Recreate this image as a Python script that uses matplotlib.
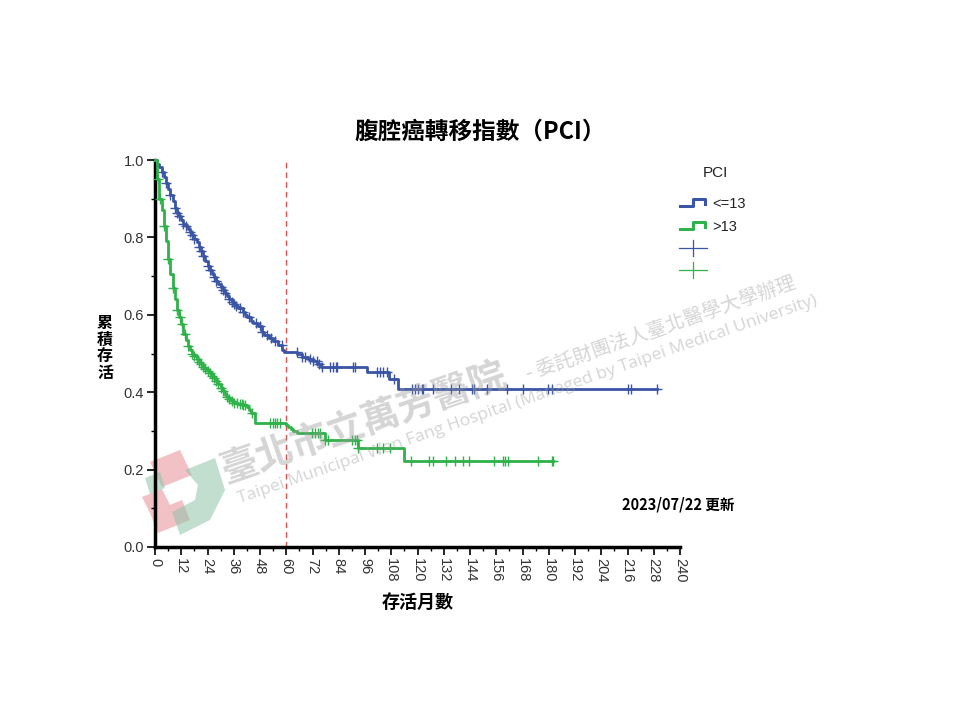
import numpy as np
import matplotlib as mpl

mpl.use("Agg")
import matplotlib.pyplot as plt
from matplotlib.lines import Line2D
from matplotlib.patches import Polygon

plt.rcParams["font.family"] = ["Liberation Sans", "Noto Sans CJK TC", "DejaVu Sans"]

# Kaplan-Meier steps, PCI <= 13
blue_t = [0, 1, 2, 3, 4, 5, 6, 7, 8, 9, 10, 11, 12, 13, 14, 15, 16, 17, 18, 19,
          20, 21, 22, 23, 24, 25, 26, 27, 28, 29, 30, 31, 32, 33, 34, 35, 36, 37,
          38, 40, 41, 42, 44, 45, 47, 49, 50, 52, 54, 56, 58, 59, 65, 67, 70, 72,
          74, 76, 97, 107, 111, 229.5]
blue_s = [1.0, 0.99, 0.983, 0.97, 0.955, 0.94, 0.925, 0.91, 0.895, 0.875, 0.862,
          0.855, 0.845, 0.835, 0.83, 0.822, 0.815, 0.805, 0.797, 0.788, 0.775,
          0.765, 0.752, 0.738, 0.725, 0.715, 0.705, 0.697, 0.688, 0.679, 0.672,
          0.665, 0.656, 0.648, 0.64, 0.634, 0.628, 0.622, 0.617, 0.608, 0.6, 0.594,
          0.585, 0.578, 0.57, 0.556, 0.548, 0.54, 0.533, 0.522, 0.51, 0.505, 0.5,
          0.492, 0.487, 0.48, 0.474, 0.466, 0.451, 0.434, 0.408, 0.408]
blue_cens = [3, 5, 7, 9, 10, 11, 13, 14, 16, 17, 18, 20, 21, 22, 24, 25, 27, 28,
             30, 31, 32, 34, 35, 36, 37, 39, 40, 43, 46, 48, 49, 51, 53, 55, 57.9,
             64.8, 67, 68.6, 70.9, 72.4, 73.9, 75.1, 76.2, 80, 81.2, 82.7, 83,
             90.7, 91.6, 101.3, 102.9, 104.4, 105.9, 109.3, 117.3, 118.9, 120.4,
             121.9, 122.7, 127, 135.2, 139.1, 144.8, 145.8, 151.9, 160.8, 168.1,
             179.8, 181.3, 216.1, 217.4, 229.5]

# Kaplan-Meier steps, PCI > 13
green_t = [0, 1, 2, 3, 4, 5, 6, 7, 8, 9, 10, 11, 12, 13, 14, 15, 16, 17, 18, 19,
           20, 21, 22, 23, 24, 25, 26, 27, 28, 29, 30, 31, 32, 33, 34, 35, 36, 38,
           40, 42, 43, 44, 45.5, 60, 61, 62, 63, 65, 77.5, 93, 114, 182]
green_s = [1.0, 0.95, 0.9, 0.87, 0.83, 0.79, 0.745, 0.705, 0.67, 0.64, 0.612,
           0.595, 0.575, 0.55, 0.535, 0.52, 0.51, 0.5, 0.493, 0.485, 0.478, 0.472,
           0.466, 0.46, 0.455, 0.449, 0.443, 0.437, 0.428, 0.42, 0.412, 0.403,
           0.394, 0.387, 0.382, 0.377, 0.373, 0.369, 0.366, 0.362, 0.355, 0.345,
           0.32, 0.315, 0.31, 0.305, 0.3, 0.295, 0.276, 0.255, 0.222, 0.222]
green_cens = [1.5, 2.5, 4, 6, 8, 10, 11.5, 12.5, 13.5, 15, 17, 18, 19, 20, 21, 22,
              23, 24, 25, 26, 27, 28, 29, 30, 31, 33, 34, 35, 36, 37.3, 38.9, 39.6,
              40.4, 41.1, 44.2, 52.6, 54.1, 54.9, 55.6, 57.1, 71.6, 73.1, 74.7,
              75.4, 77.7, 79.2, 89.9, 91.4, 92.2, 93, 101.3, 104.4, 107.4, 116.9,
              125.3, 126.9, 132.9, 137.1, 141, 143.7, 155.1, 159, 160, 161.5,
              175.2, 181.3, 182]

x_ticks = np.arange(0, 241, 12)
y_ticks = [0.0, 0.2, 0.4, 0.6, 0.8, 1.0]

BLUE = "#3a55a5"
GREEN = "#2fb24a"

fig = plt.figure(figsize=(9.6, 7.2), dpi=100)
ax = fig.add_axes([155 / 960, 1 - 547 / 720, 525 / 960, 387 / 720])
ax.patch.set_alpha(0)


def step_at(times, surv, c):
    i = np.searchsorted(times, c, side="right") - 1
    return surv[max(i, 0)]


for t, s, cens, col in [(blue_t, blue_s, blue_cens, BLUE),
                        (green_t, green_s, green_cens, GREEN)]:
    ax.step(t, s, where="post", color=col, lw=2.0, clip_on=False, zorder=3)
    cy = [step_at(t, s, c) for c in cens]
    ax.plot(cens, cy, ls="none", marker="+", ms=7, mew=1.0, color=col,
            clip_on=False, zorder=3)

ax.axvline(60, color="#e05050", lw=1.0, ls=(0, (4, 3)), zorder=2)

ax.set_xlim(0, 240)
ax.set_ylim(0, 1.0)
ax.set_xticks(x_ticks)
ax.set_xticks(np.arange(6, 240, 12), minor=True)
ax.set_yticks(y_ticks)
ax.set_yticks([0.1, 0.3, 0.5, 0.7, 0.9], minor=True)
ax.set_xticklabels([str(v) for v in x_ticks], rotation=-90, fontsize=10.5,
                   color="#333333")
ax.set_yticklabels(["%.1f" % v for v in y_ticks], fontsize=10.5, color="#333333")
ax.tick_params(which="major", length=6, width=1.2, direction="out", pad=2)
ax.tick_params(which="minor", length=3, width=1.0, direction="out")
for side in ["top", "right"]:
    ax.spines[side].set_visible(False)
ax.spines["left"].set_linewidth(2.5)
ax.spines["bottom"].set_linewidth(2.5)

fig.text(480 / 960, 1 - 132 / 720, "腹腔癌轉移指數（PCI）", ha="center", va="center",
         fontsize=17, fontweight="bold", family=["Noto Sans CJK TC"])
fig.text(105 / 960, 1 - 348 / 720, "\n".join("累積存活"), ha="center", va="center",
         fontsize=11.5, fontweight="bold", family=["Noto Sans CJK TC"],
         linespacing=1.05)
fig.text(418 / 960, 1 - 602 / 720, "存活月數", ha="center", va="center",
         fontsize=13, fontweight="bold", family=["Noto Sans CJK TC"])
fig.text(678 / 960, 1 - 505 / 720, "2023/07/22 更新", ha="center", va="center",
         fontsize=10.5, fontweight="bold", family=["Noto Sans CJK TC"])

# legend
fig.text(715 / 960, 1 - 173 / 720, "PCI", ha="center", va="center", fontsize=11,
         color="#222222")
for yy, col, lab in [(206, BLUE, "<=13"), (229, GREEN, ">13")]:
    xs = np.array([680, 693, 693, 705, 705]) / 960
    ys = 1 - np.array([yy, yy, yy - 7, yy - 7, yy - 2]) / 720
    fig.add_artist(Line2D(xs, ys, color=col, lw=2.2))
    fig.text(712 / 960, 1 - (yy - 2) / 720, lab, ha="left", va="center",
             fontsize=10.5, color="#222222")
for yy, col in [(248, BLUE), (270, GREEN)]:
    fig.add_artist(Line2D([679 / 960, 707 / 960], [1 - yy / 720] * 2, color=col, lw=0.9))
    fig.add_artist(Line2D([693 / 960] * 2, [1 - (yy - 8) / 720, 1 - (yy + 8) / 720],
                          color=col, lw=0.9))

# watermark
wm = dict(color="#9a9a9a", alpha=0.42, rotation=19, rotation_mode="anchor",
          ha="left", va="baseline", family=["Noto Sans CJK TC"], zorder=0)
fig.text(226 / 960, 1 - 482 / 720, "臺北市立萬芳醫院", fontsize=27, fontweight="bold", **wm)
fig.text(528 / 960, 1 - 380 / 720, "- 委託財團法人臺北醫學大學辦理", fontsize=14, **wm)
fig.text(240 / 960, 1 - 503 / 720,
         "Taipei Municipal Wan Fang Hospital (Managed by Taipei Medical University)",
         fontsize=12.6, **dict(wm, family=["Open Sans"]))
logo = [
    ([(150, 462), (180, 450), (192, 475), (162, 487)], "#e88f96"),
    ([(142, 497), (162, 489), (170, 505), (150, 513)], "#e88f96"),
    ([(150, 513), (182, 500), (190, 520), (158, 533)], "#e88f96"),
    ([(185, 470), (215, 458), (225, 490), (210, 520), (180, 535), (172, 512), (195, 500), (198, 485)], "#8fc4a8"),
    ([(145, 478), (160, 472), (165, 488), (150, 494)], "#8fc4a8"),
]
for pts, col in logo:
    arr = np.array(pts, dtype=float)
    arr[:, 0] /= 960
    arr[:, 1] = 1 - arr[:, 1] / 720
    fig.add_artist(Polygon(arr, closed=True, color=col, alpha=0.55, lw=0, zorder=0))

fig.savefig("out.png", dpi=100)
